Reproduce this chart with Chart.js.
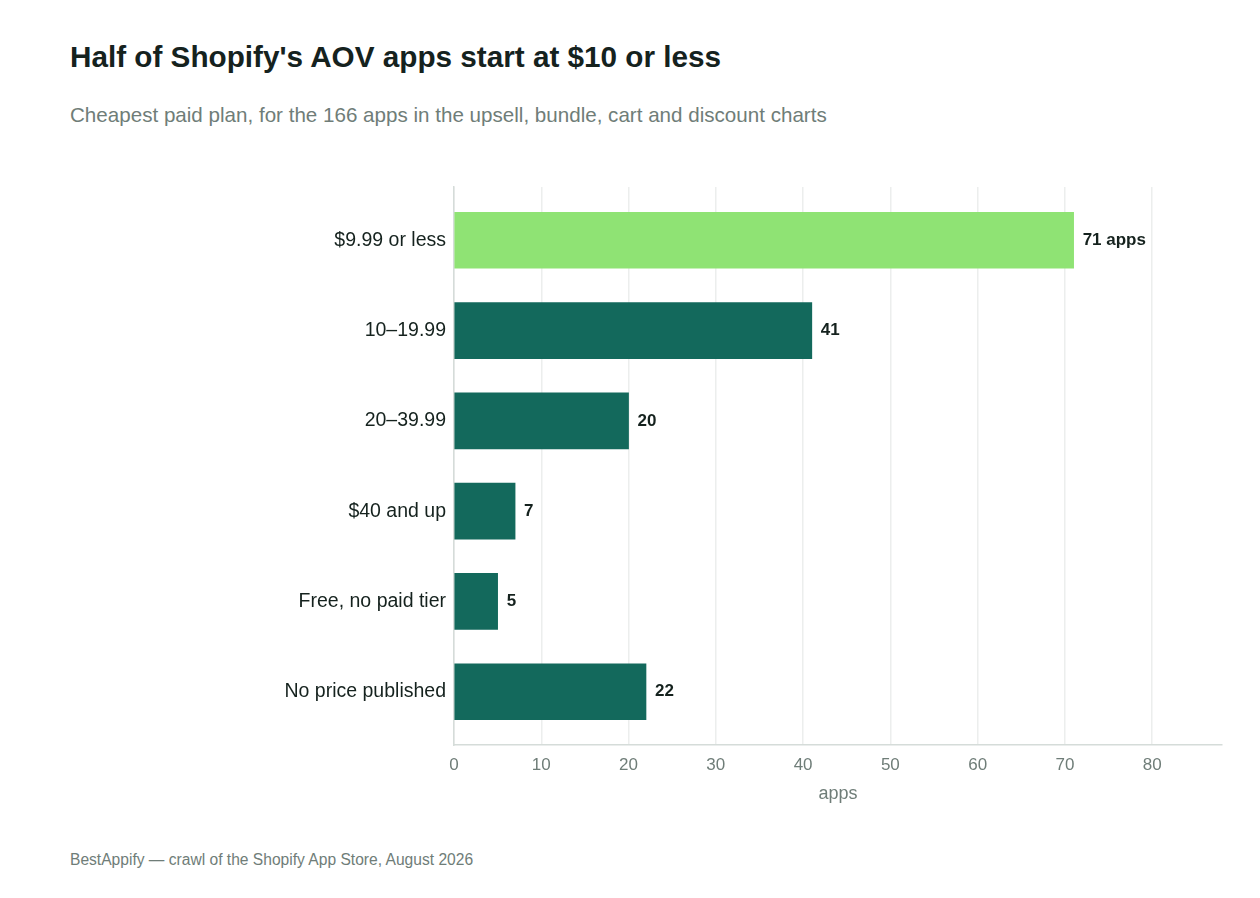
<!DOCTYPE html>
<html><head><meta charset="utf-8">
<script src="https://cdn.jsdelivr.net/npm/chart.js@4"></script>
<style>
html,body{margin:0;padding:0;background:#fff;}
#wrap{position:relative;width:1260px;height:898px;font-family:"Liberation Sans",Arial,sans-serif;}
#title{position:absolute;left:70px;top:40px;font-size:29.7px;font-weight:bold;color:#15221e;white-space:nowrap;}
#sub{position:absolute;left:70px;top:103px;font-size:20.6px;color:#6f7d78;white-space:nowrap;}
#foot{position:absolute;left:70px;top:851px;font-size:15.6px;color:#6f7d78;white-space:nowrap;}
canvas{position:absolute;left:0;top:0;}
</style></head>
<body><div id="wrap">
<div id="title">Half of Shopify's AOV apps start at $10 or less</div>
<div id="sub">Cheapest paid plan, for the 166 apps in the upsell, bundle, cart and discount charts</div>
<div id="foot">BestAppify — crawl of the Shopify App Store, August 2026</div>
<canvas id="c" width="1260" height="898"></canvas>
</div>
<script>
const categories = ["$9.99 or less", "10–19.99", "20–39.99", "$40 and up", "Free, no paid tier", "No price published"];
const appCounts = [71, 41, 20, 7, 5, 22];
const valueLabels = ["71 apps", "41", "20", "7", "5", "22"];
const xTicks = [0, 10, 20, 30, 40, 50, 60, 70, 80];
const highlightColor = "#8fe374";
const baseColor = "#13695c";

const labelPlugin = {
  id: 'valueLabels',
  afterLayout(chart) {
    // extra breathing room above the first and below the last bar
    const y = chart.scales.y;
    const e = 0.09;
    y._startValue = y.min - 0.5 - e;
    y._valueRange = (y.max - y.min) + 1 + 2 * e;
  },
  afterDatasetsDraw(chart) {
    const ctx = chart.ctx;
    const meta = chart.getDatasetMeta(0);
    ctx.save();
    ctx.font = "bold 17px 'Liberation Sans', Arial, sans-serif";
    ctx.fillStyle = "#15221e";
    ctx.textAlign = "left";
    ctx.textBaseline = "middle";
    meta.data.forEach((el, i) => {
      ctx.fillText(valueLabels[i], el.x + 9, el.y);
    });
    ctx.restore();
  }
};

new Chart(document.getElementById('c'), {
  type: 'bar',
  data: {
    labels: categories,
    datasets: [{
      data: appCounts,
      backgroundColor: appCounts.map((v, i) => i === 0 ? highlightColor : baseColor),
      barThickness: 56,
      borderWidth: 0
    }]
  },
  options: {
    indexAxis: 'y',
    responsive: false,
    animation: false,
    devicePixelRatio: 1,
    layout: { padding: { top: 187, right: 38, bottom: 93, left: 0 } },
    plugins: { legend: { display: false }, tooltip: { enabled: false } },
    scales: {
      x: {
        min: 0, max: 88,
        afterBuildTicks(s) { s.ticks = xTicks.map(v => ({ value: v })); },
        grid: { color: "#eceeed", lineWidth: 1.5, drawTicks: false },
        border: { color: "#d5dcd9", width: 1.5 },
        ticks: { padding: 10, color: "#6f7d78", font: { family: "'Liberation Sans Narrow','Liberation Sans',Arial", size: 17 } },
        title: { display: true, text: "apps", color: "#6f7d78", padding: { top: -2, bottom: 0 }, font: { family: "'Liberation Sans',Arial", size: 18 } }
      },
      y: {
        afterFit(s) { s.width = 454; },
        grid: { display: false, drawTicks: false },
        border: { color: "#d5dcd9", width: 1.5 },
        ticks: { padding: 8, color: "#15221e", font: { family: "'Liberation Sans',Arial", size: 19.5 } }
      }
    }
  },
  plugins: [labelPlugin]
});
</script>
</body></html>
